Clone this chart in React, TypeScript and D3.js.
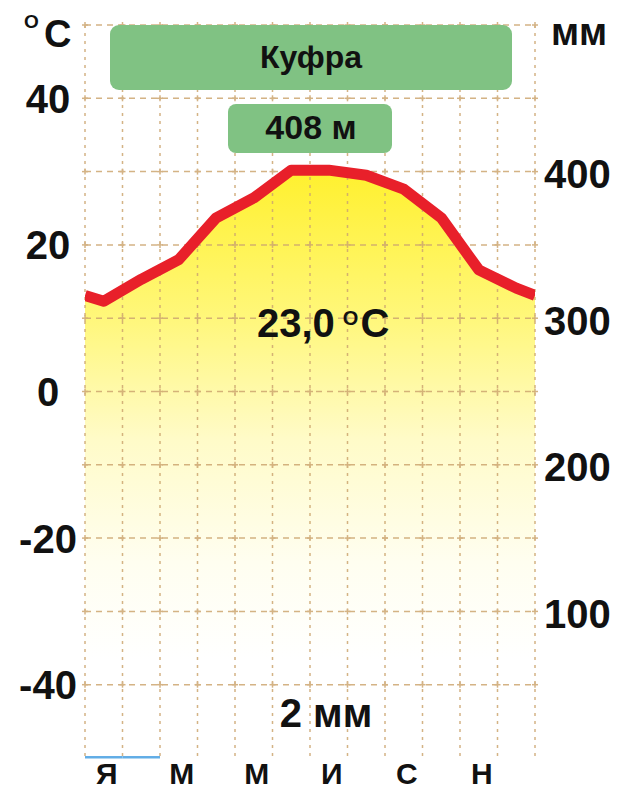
import React from 'react';
import * as d3 from 'd3';

// Климатограмма: Куфра
const monthInitials = ['Я', 'Ф', 'М', 'А', 'М', 'И', 'И', 'А', 'С', 'О', 'Н', 'Д'];
const temps = [12.3, 15.3, 18.0, 23.7, 26.4, 30.2, 30.2, 29.5, 27.6, 23.7, 16.6, 14.1];
const edgeTemp = 13.1; // value where the line meets the plot edges (Dec/Jan)
const precip = [1, 1, 0, 0, 0, 0, 0, 0, 0, 0, 0, 0];
const tempTicks = [40, 20, 0, -20, -40];
const precipTicks = [400, 300, 200, 100];
const gridTemps = [50, 40, 30, 20, 10, 0, -10, -20, -30, -40];

const stationName = 'Куфра';
const elevation = '408 м';
const meanTemp = '23,0';
const totalPrecip = '2 мм';

const FONT = '"Liberation Sans", Arial, sans-serif';

export default function App() {
  const left = 85, right = 535, top = 25, bottom = 758;

  const x = d3.scaleBand<number>()
    .domain(d3.range(12))
    .range([left, right]);
  const yT = d3.scaleLinear().domain([-50, 50]).range([bottom, top]);
  const yP = d3.scaleLinear().domain([0, 500]).range([bottom, top]);

  const cx = (i: number) => (x(i) as number) + x.bandwidth() / 2;

  const pts: [number, number][] = [
    [left, edgeTemp],
    ...temps.map((t, i) => [cx(i), t] as [number, number]),
    [right, edgeTemp]
  ];

  const line = d3.line<[number, number]>().x(d => d[0]).y(d => yT(d[1]));
  const area = d3.area<[number, number]>().x(d => d[0]).y0(bottom).y1(d => yT(d[1]));

  const vLines = d3.range(13).map(i => left + i * x.bandwidth());
  const gridColor = '#cda670';

  return (
    <svg width={621} height={790} style={{ position: 'absolute', left: 0, top: 0, background: '#fff' }}>
      <defs>
        <linearGradient id="warm" gradientUnits="userSpaceOnUse" x1={0} y1={170} x2={0} y2={660}>
          <stop offset="0" stopColor="#fff02e" />
          <stop offset="0.3" stopColor="#fff77a" />
          <stop offset="0.55" stopColor="#fffbc8" />
          <stop offset="0.8" stopColor="#fffef0" />
          <stop offset="1" stopColor="#ffffff" />
        </linearGradient>
        <clipPath id="plot">
          <rect x={left} y={top - 20} width={right - left} height={bottom - top + 20} />
        </clipPath>
      </defs>

      <path d={area(pts) as string} fill="url(#warm)" clipPath="url(#plot)" />

      {/* grid */}
      <g stroke={gridColor} strokeWidth={1.5} opacity={0.85}>
        {gridTemps.map(t => (
          <line key={'h' + t} x1={left} x2={right} y1={yT(t)} y2={yT(t)} strokeDasharray="6,5" />
        ))}
        {vLines.map((vx, i) => (
          <line key={'v' + i} x1={vx} x2={vx} y1={top} y2={bottom - 2} strokeDasharray="3,5" />
        ))}
        {gridTemps.map(t => vLines.map((vx, i) => (
          <g key={'c' + t + '-' + i}>
            <line x1={vx - 3} x2={vx + 3} y1={yT(t)} y2={yT(t)} />
            <line x1={vx} x2={vx} y1={yT(t) - 3} y2={yT(t) + 3} />
          </g>
        )))}
      </g>

      {/* precipitation */}
      {precip.map((p, i) => p > 0 && (
        <rect key={'p' + i} x={(x(i) as number) + 0.5} width={x.bandwidth() - 1}
          y={yP(p)} height={yP(0) - yP(p)} fill="#62ade6" stroke="#62ade6" strokeWidth={1} />
      ))}

      <path d={line(pts) as string} fill="none" stroke="#e8202a" strokeWidth={11}
        strokeLinejoin="round" clipPath="url(#plot)" />

      {/* boxes */}
      <rect x={110} y={25} width={402} height={65} rx={9} fill="#80c283" />
      <text x={311} y={68} textAnchor="middle" fontFamily={FONT} fontWeight="bold" fontSize={32} fill="#111">{stationName}</text>
      <rect x={228} y={104} width={164} height={49} rx={8} fill="#80c283" />
      <text x={311} y={139} textAnchor="middle" fontFamily={FONT} fontWeight="bold" fontSize={34} fill="#111">{elevation}</text>

      {/* axis labels */}
      <g fontFamily={FONT} fontWeight="bold" fill="#111">
        <text x={24} y={28} fontSize={19}>O</text>
        <text x={44} y={47} fontSize={38}>C</text>
        <text x={551} y={45} fontSize={38}>мм</text>
        {tempTicks.map(t => (
          <text key={'t' + t} x={48} y={yT(t)} dy="0.36em" textAnchor="middle" fontSize={40}>{t}</text>
        ))}
        {precipTicks.map(p => (
          <text key={'pt' + p} x={544} y={yP(p) + 2} dy="0.36em" fontSize={40}>{p}</text>
        ))}
        {monthInitials.map((m, i) => i % 2 === 0 && (
          <text key={'m' + i} x={cx(i) + 3} y={784} textAnchor="middle" fontSize={30}>{m}</text>
        ))}
        <text x={257} y={337} fontSize={40}>{meanTemp}<tspan fontSize={20} dx={8} dy={-12}>O</tspan><tspan fontSize={40} dx={2} dy={12}>C</tspan></text>
        <text x={326} y={727} textAnchor="middle" fontSize={40}>{totalPrecip}</text>
      </g>
    </svg>
  );
}
